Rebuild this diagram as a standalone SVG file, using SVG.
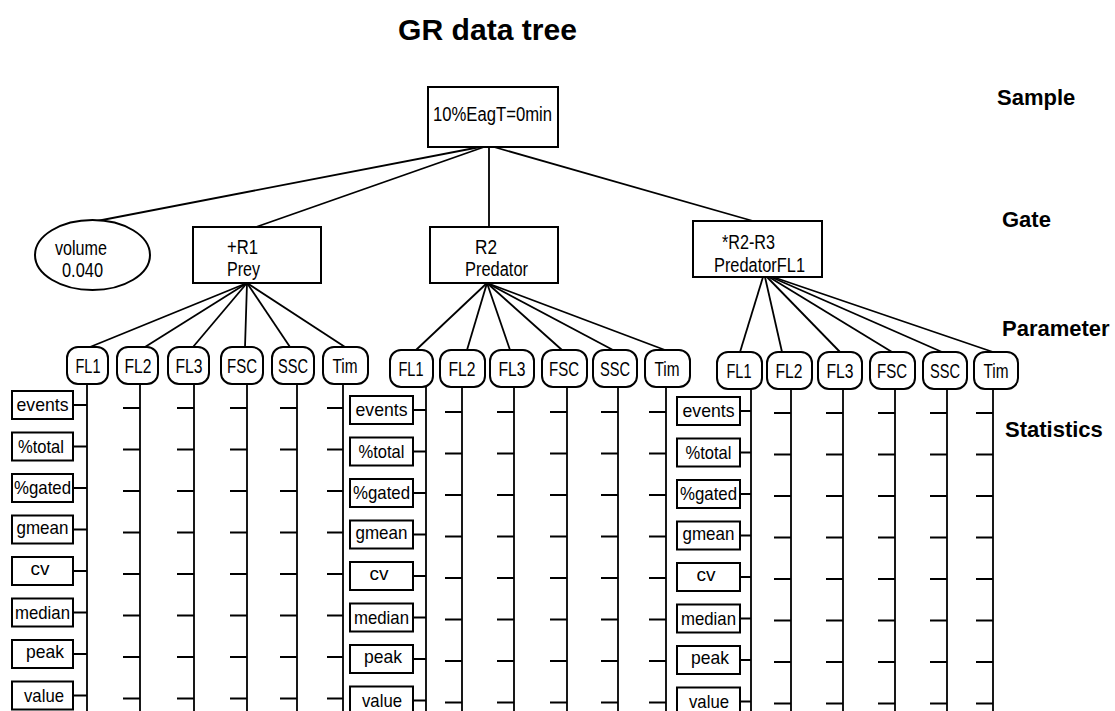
<svg xmlns="http://www.w3.org/2000/svg" width="1115" height="711" viewBox="0 0 1115 711">
<style>
.bg{fill:#fff}
.box{fill:#fff;stroke:#000;stroke-width:2}
.ln{stroke:#000;stroke-width:1.8;fill:none}
.t{font-family:"Liberation Sans",Arial,sans-serif;fill:#000}
.lbl{font-family:"Liberation Sans",Arial,sans-serif;font-weight:bold;font-size:22px;fill:#000}
.st{font-family:"Liberation Sans",Arial,sans-serif;font-size:19px;fill:#000;text-anchor:middle}
.pt{font-family:"Liberation Sans",Arial,sans-serif;font-size:20px;fill:#000;text-anchor:middle}
.gt{font-family:"Liberation Sans",Arial,sans-serif;font-size:20px;fill:#000}
</style>
<rect class="bg" x="0" y="0" width="1115" height="711"/>
<text class="t" x="398" y="40" font-size="30" font-weight="bold" textLength="179" lengthAdjust="spacingAndGlyphs">GR data tree</text>
<g id="level-labels">
<text class="lbl" x="997" y="105">Sample</text>
<text class="lbl" x="1002" y="227">Gate</text>
<text class="lbl" x="1002" y="336">Parameter</text>
<text class="lbl" x="1005" y="437">Statistics</text>
</g>

<g id="connectors">
<line class="ln" x1="480" y1="147" x2="97" y2="221"/>
<line class="ln" x1="484" y1="147" x2="256" y2="227"/>
<line class="ln" x1="489" y1="147" x2="489" y2="227"/>
<line class="ln" x1="494" y1="147" x2="753" y2="221"/>
<line class="ln" x1="247" y1="283" x2="90" y2="347"/>
<line class="ln" x1="247" y1="283" x2="145" y2="347"/>
<line class="ln" x1="247" y1="283" x2="193" y2="347"/>
<line class="ln" x1="247" y1="283" x2="245" y2="347"/>
<line class="ln" x1="247" y1="283" x2="290" y2="347"/>
<line class="ln" x1="247" y1="283" x2="345" y2="347"/>
<line class="ln" x1="487" y1="283" x2="416" y2="350"/>
<line class="ln" x1="487" y1="283" x2="467" y2="350"/>
<line class="ln" x1="487" y1="283" x2="510" y2="350"/>
<line class="ln" x1="487" y1="283" x2="562" y2="350"/>
<line class="ln" x1="487" y1="283" x2="613" y2="350"/>
<line class="ln" x1="487" y1="283" x2="665" y2="350"/>
<line class="ln" x1="763" y1="277" x2="740" y2="352"/>
<line class="ln" x1="765" y1="277" x2="782" y2="352"/>
<line class="ln" x1="767" y1="277" x2="840" y2="352"/>
<line class="ln" x1="769" y1="277" x2="892" y2="352"/>
<line class="ln" x1="771" y1="277" x2="942" y2="352"/>
<line class="ln" x1="773" y1="277" x2="993" y2="352"/>
<path class="ln" d="M87 384V711M140 384V711M194 384V711M247 384V711M297 384V711M343 384V711"/>
<path class="ln" d="M426 387V711M462 387V711M514 387V711M567 387V711M618 387V711M666 387V711"/>
<path class="ln" d="M751 389V711M791 389V711M843 389V711M895 389V711M947 389V711M993 389V711"/>
<path class="ln" d="M73 405H87M73 446.5H87M73 488H87M73 529.5H87M73 571H87M73 612.5H87M73 654H87M73 695.5H87"/>
<path class="ln" d="M123 408H140M123 449.5H140M123 491H140M123 532.5H140M123 574H140M123 615.5H140M123 657H140M123 698.5H140"/>
<path class="ln" d="M177 408H194M177 449.5H194M177 491H194M177 532.5H194M177 574H194M177 615.5H194M177 657H194M177 698.5H194"/>
<path class="ln" d="M230 408H247M230 449.5H247M230 491H247M230 532.5H247M230 574H247M230 615.5H247M230 657H247M230 698.5H247"/>
<path class="ln" d="M280 408H297M280 449.5H297M280 491H297M280 532.5H297M280 574H297M280 615.5H297M280 657H297M280 698.5H297"/>
<path class="ln" d="M327 408H343M327 449.5H343M327 491H343M327 532.5H343M327 574H343M327 615.5H343M327 657H343M327 698.5H343"/>
<path class="ln" d="M413 410H426M413 451.5H426M413 493H426M413 534.5H426M413 576H426M413 617.5H426M413 659H426M413 700.5H426"/>
<path class="ln" d="M445 412H462M445 453.5H462M445 495H462M445 536.5H462M445 578H462M445 619.5H462M445 661H462M445 702.5H462"/>
<path class="ln" d="M497 412H514M497 453.5H514M497 495H514M497 536.5H514M497 578H514M497 619.5H514M497 661H514M497 702.5H514"/>
<path class="ln" d="M550 412H567M550 453.5H567M550 495H567M550 536.5H567M550 578H567M550 619.5H567M550 661H567M550 702.5H567"/>
<path class="ln" d="M601 412H618M601 453.5H618M601 495H618M601 536.5H618M601 578H618M601 619.5H618M601 661H618M601 702.5H618"/>
<path class="ln" d="M649 412H666M649 453.5H666M649 495H666M649 536.5H666M649 578H666M649 619.5H666M649 661H666M649 702.5H666"/>
<path class="ln" d="M740 411H751M740 452.5H751M740 494H751M740 535.5H751M740 577H751M740 618.5H751M740 660H751M740 701.5H751"/>
<path class="ln" d="M774 413H791M774 454.5H791M774 496H791M774 537.5H791M774 579H791M774 620.5H791M774 662H791M774 703.5H791"/>
<path class="ln" d="M826 413H843M826 454.5H843M826 496H843M826 537.5H843M826 579H843M826 620.5H843M826 662H843M826 703.5H843"/>
<path class="ln" d="M878 413H895M878 454.5H895M878 496H895M878 537.5H895M878 579H895M878 620.5H895M878 662H895M878 703.5H895"/>
<path class="ln" d="M930 413H947M930 454.5H947M930 496H947M930 537.5H947M930 579H947M930 620.5H947M930 662H947M930 703.5H947"/>
<path class="ln" d="M976 413H993M976 454.5H993M976 496H993M976 537.5H993M976 579H993M976 620.5H993M976 662H993M976 703.5H993"/>
</g>

<g id="sample">
<rect class="box" x="428" y="87" width="130" height="60"/>
<text class="gt" x="433" y="121" textLength="119" lengthAdjust="spacingAndGlyphs">10%EagT=0min</text>
</g>

<g id="gate-volume">
<ellipse class="box" cx="92.5" cy="255" rx="57.5" ry="35"/>
<text class="gt" x="55" y="255" textLength="52" lengthAdjust="spacingAndGlyphs">volume</text>
<text class="gt" x="62" y="277" textLength="41" lengthAdjust="spacingAndGlyphs">0.040</text>
</g>
<g id="gate-r1">
<rect class="box" x="193" y="227" width="128" height="56"/>
<text class="gt" x="227" y="254" textLength="31" lengthAdjust="spacingAndGlyphs">+R1</text>
<text class="gt" x="227" y="276" textLength="33" lengthAdjust="spacingAndGlyphs">Prey</text>
</g>
<g id="gate-r2">
<rect class="box" x="430" y="227" width="128" height="56"/>
<text class="gt" x="475" y="254" textLength="22" lengthAdjust="spacingAndGlyphs">R2</text>
<text class="gt" x="465" y="276" textLength="63" lengthAdjust="spacingAndGlyphs">Predator</text>
</g>
<g id="gate-r3">
<rect class="box" x="693" y="221" width="129" height="56"/>
<text class="gt" x="722" y="249" textLength="53" lengthAdjust="spacingAndGlyphs">*R2-R3</text>
<text class="gt" x="714" y="272" textLength="91" lengthAdjust="spacingAndGlyphs">PredatorFL1</text>
</g>

<g id="params-r1">
<g id="p1-fl1"><rect class="box" x="67" y="347" width="41" height="37" rx="11"/><text class="pt" x="88" y="373" textLength="25" lengthAdjust="spacingAndGlyphs">FL1</text></g>
<g id="p1-fl2"><rect class="box" x="117" y="347" width="41" height="37" rx="11"/><text class="pt" x="138" y="373" textLength="27" lengthAdjust="spacingAndGlyphs">FL2</text></g>
<g id="p1-fl3"><rect class="box" x="168" y="347" width="41" height="37" rx="11"/><text class="pt" x="189" y="373" textLength="27" lengthAdjust="spacingAndGlyphs">FL3</text></g>
<g id="p1-fsc"><rect class="box" x="221" y="347" width="42" height="37" rx="11"/><text class="pt" x="242" y="373" textLength="30" lengthAdjust="spacingAndGlyphs">FSC</text></g>
<g id="p1-ssc"><rect class="box" x="272" y="347" width="42" height="37" rx="11"/><text class="pt" x="293" y="373" textLength="30" lengthAdjust="spacingAndGlyphs">SSC</text></g>
<g id="p1-tim"><rect class="box" x="323" y="347" width="45" height="37" rx="11"/><text class="pt" x="345" y="373" textLength="25" lengthAdjust="spacingAndGlyphs">Tim</text></g>
</g>
<g id="params-r2">
<g id="p2-fl1"><rect class="box" x="390" y="350" width="43" height="37" rx="11"/><text class="pt" x="411" y="376" textLength="25" lengthAdjust="spacingAndGlyphs">FL1</text></g>
<g id="p2-fl2"><rect class="box" x="440" y="350" width="45" height="37" rx="11"/><text class="pt" x="462" y="376" textLength="27" lengthAdjust="spacingAndGlyphs">FL2</text></g>
<g id="p2-fl3"><rect class="box" x="490" y="350" width="44" height="37" rx="11"/><text class="pt" x="512" y="376" textLength="27" lengthAdjust="spacingAndGlyphs">FL3</text></g>
<g id="p2-fsc"><rect class="box" x="542" y="350" width="45" height="37" rx="11"/><text class="pt" x="564" y="376" textLength="30" lengthAdjust="spacingAndGlyphs">FSC</text></g>
<g id="p2-ssc"><rect class="box" x="593" y="350" width="44" height="37" rx="11"/><text class="pt" x="615" y="376" textLength="30" lengthAdjust="spacingAndGlyphs">SSC</text></g>
<g id="p2-tim"><rect class="box" x="645" y="350" width="45" height="37" rx="11"/><text class="pt" x="667" y="376" textLength="25" lengthAdjust="spacingAndGlyphs">Tim</text></g>
</g>
<g id="params-r3">
<g id="p3-fl1"><rect class="box" x="717" y="352" width="45" height="37" rx="11"/><text class="pt" x="739" y="378" textLength="25" lengthAdjust="spacingAndGlyphs">FL1</text></g>
<g id="p3-fl2"><rect class="box" x="767" y="352" width="45" height="37" rx="11"/><text class="pt" x="789" y="378" textLength="27" lengthAdjust="spacingAndGlyphs">FL2</text></g>
<g id="p3-fl3"><rect class="box" x="818" y="352" width="44" height="37" rx="11"/><text class="pt" x="840" y="378" textLength="27" lengthAdjust="spacingAndGlyphs">FL3</text></g>
<g id="p3-fsc"><rect class="box" x="870" y="352" width="45" height="37" rx="11"/><text class="pt" x="892" y="378" textLength="30" lengthAdjust="spacingAndGlyphs">FSC</text></g>
<g id="p3-ssc"><rect class="box" x="923" y="352" width="44" height="37" rx="11"/><text class="pt" x="945" y="378" textLength="30" lengthAdjust="spacingAndGlyphs">SSC</text></g>
<g id="p3-tim"><rect class="box" x="974" y="352" width="44" height="37" rx="11"/><text class="pt" x="996" y="378" textLength="25" lengthAdjust="spacingAndGlyphs">Tim</text></g>
</g>

<g id="stats-r1">
<g id="s1-events"><rect class="box" x="12" y="391" width="61" height="28"/><text class="st" x="42.5" y="411" textLength="52" lengthAdjust="spacingAndGlyphs">events</text></g>
<g id="s1-total"><rect class="box" x="12" y="432.5" width="61" height="28"/><text class="st" x="41" y="452.5" textLength="46" lengthAdjust="spacingAndGlyphs">%total</text></g>
<g id="s1-gated"><rect class="box" x="12" y="474" width="61" height="28"/><text class="st" x="42.5" y="494" textLength="57" lengthAdjust="spacingAndGlyphs">%gated</text></g>
<g id="s1-gmean"><rect class="box" x="12" y="515.5" width="61" height="28"/><text class="st" x="42.5" y="533.5" textLength="52" lengthAdjust="spacingAndGlyphs">gmean</text></g>
<g id="s1-cv"><rect class="box" x="12" y="557" width="61" height="28"/><text class="st" x="40" y="575">cv</text></g>
<g id="s1-median"><rect class="box" x="12" y="598.5" width="61" height="28"/><text class="st" x="42.5" y="618.5" textLength="55" lengthAdjust="spacingAndGlyphs">median</text></g>
<g id="s1-peak"><rect class="box" x="12" y="640" width="61" height="28"/><text class="st" x="45" y="658" textLength="38" lengthAdjust="spacingAndGlyphs">peak</text></g>
<g id="s1-value"><rect class="box" x="12" y="681.5" width="61" height="28"/><text class="st" x="44" y="701.5" textLength="40" lengthAdjust="spacingAndGlyphs">value</text></g>
</g>
<g id="stats-r2">
<g id="s2-events"><rect class="box" x="350" y="396" width="63" height="28"/><text class="st" x="381.5" y="416" textLength="52" lengthAdjust="spacingAndGlyphs">events</text></g>
<g id="s2-total"><rect class="box" x="350" y="437.5" width="63" height="28"/><text class="st" x="381.5" y="457.5" textLength="46" lengthAdjust="spacingAndGlyphs">%total</text></g>
<g id="s2-gated"><rect class="box" x="350" y="479" width="63" height="28"/><text class="st" x="381.5" y="499" textLength="57" lengthAdjust="spacingAndGlyphs">%gated</text></g>
<g id="s2-gmean"><rect class="box" x="350" y="520.5" width="63" height="28"/><text class="st" x="381.5" y="538.5" textLength="52" lengthAdjust="spacingAndGlyphs">gmean</text></g>
<g id="s2-cv"><rect class="box" x="350" y="562" width="63" height="28"/><text class="st" x="379" y="580">cv</text></g>
<g id="s2-median"><rect class="box" x="350" y="603.5" width="63" height="28"/><text class="st" x="381.5" y="623.5" textLength="55" lengthAdjust="spacingAndGlyphs">median</text></g>
<g id="s2-peak"><rect class="box" x="350" y="645" width="63" height="28"/><text class="st" x="383" y="663" textLength="38" lengthAdjust="spacingAndGlyphs">peak</text></g>
<g id="s2-value"><rect class="box" x="350" y="686.5" width="63" height="28"/><text class="st" x="382" y="706.5" textLength="40" lengthAdjust="spacingAndGlyphs">value</text></g>
</g>
<g id="stats-r3">
<g id="s3-events"><rect class="box" x="677" y="397" width="63" height="28"/><text class="st" x="708.5" y="417" textLength="52" lengthAdjust="spacingAndGlyphs">events</text></g>
<g id="s3-total"><rect class="box" x="677" y="438.5" width="63" height="28"/><text class="st" x="708.5" y="458.5" textLength="46" lengthAdjust="spacingAndGlyphs">%total</text></g>
<g id="s3-gated"><rect class="box" x="677" y="480" width="63" height="28"/><text class="st" x="708.5" y="500" textLength="57" lengthAdjust="spacingAndGlyphs">%gated</text></g>
<g id="s3-gmean"><rect class="box" x="677" y="521.5" width="63" height="28"/><text class="st" x="708.5" y="539.5" textLength="52" lengthAdjust="spacingAndGlyphs">gmean</text></g>
<g id="s3-cv"><rect class="box" x="677" y="563" width="63" height="28"/><text class="st" x="706" y="581">cv</text></g>
<g id="s3-median"><rect class="box" x="677" y="604.5" width="63" height="28"/><text class="st" x="708.5" y="624.5" textLength="55" lengthAdjust="spacingAndGlyphs">median</text></g>
<g id="s3-peak"><rect class="box" x="677" y="646" width="63" height="28"/><text class="st" x="710" y="664" textLength="38" lengthAdjust="spacingAndGlyphs">peak</text></g>
<g id="s3-value"><rect class="box" x="677" y="687.5" width="63" height="28"/><text class="st" x="709" y="707.5" textLength="40" lengthAdjust="spacingAndGlyphs">value</text></g>
</g>
</svg>
